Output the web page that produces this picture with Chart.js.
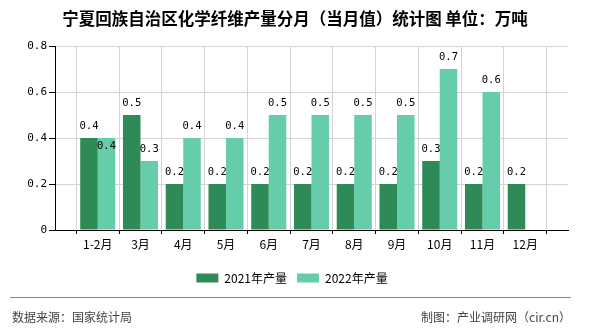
<!DOCTYPE html>
<html>
<head>
<meta charset="utf-8">
<script src="https://cdn.jsdelivr.net/npm/chart.js@4"></script>
<style>
  html, body { margin: 0; padding: 0; background: #fff; }
  #wrap { position: relative; width: 590px; height: 330px; overflow: hidden; }
  #chart { position: absolute; left: 0; top: 0; }
  .title {
    position: absolute; left: 0; top: 8px; width: 590px; text-align: center;
    font: bold 16.5px "Noto Sans CJK SC", sans-serif; color: #000; line-height: 20px;
  }
  .rule { position: absolute; left: 10px; top: 297px; width: 561px; height: 0; border-top: 1px solid #888; }
  .foot { position: absolute; top: 308px; font: 12px "Noto Sans CJK SC", sans-serif; color: #444; line-height: 18px; }
  .foot.left { left: 12px; }
  .foot.right { right: 19px; }
</style>
</head>
<body>
<div id="wrap">
  <canvas id="chart" width="590" height="330"></canvas>
  <div class="title">宁夏回族自治区化学纤维产量分月（当月值）统计图 单位：万吨</div>
  <div class="rule"></div>
  <div class="foot left">数据来源：国家统计局</div>
  <div class="foot right">制图：产业调研网（cir.cn）</div>
</div>
<script>
// empty slots at both ends keep the half-open frame seen in the original
const months = ["", "1-2月", "3月", "4月", "5月", "6月", "7月", "8月", "9月", "10月", "11月", "12月", ""];
const output2021 = [null, 0.4, 0.5, 0.2, 0.2, 0.2, 0.2, 0.2, 0.2, 0.3, 0.2, 0.2, null];
const output2022 = [null, 0.4, 0.3, 0.4, 0.4, 0.5, 0.5, 0.5, 0.5, 0.7, 0.6, null, null];
const yTicks = [0, 0.2, 0.4, 0.6, 0.8];

const DARK = "#2E8B57";
const LIGHT = "#66CDAA";
const GRID = "#d4d4d4";

const valueLabels = {
  id: "valueLabels",
  afterDatasetsDraw(chart) {
    const ctx = chart.ctx;
    const sets = chart.data.datasets;
    ctx.save();
    ctx.font = '10.5px "DejaVu Sans Mono"';
    ctx.fillStyle = "#000";
    ctx.textAlign = "center";
    ctx.textBaseline = "middle";
    sets.forEach((ds, i) => {
      chart.getDatasetMeta(i).data.forEach((bar, j) => {
        const v = ds.data[j];
        if (v == null) return;
        let y = bar.y - 11.5;
        // when both bars are level the second label drops below the top
        if (i === 1 && sets[0].data[j] === v) y = bar.y + 8.5;
        ctx.fillText(v.toFixed(1), bar.x, y);
      });
    });
    ctx.restore();
  }
};

new Chart(document.getElementById("chart"), {
  type: "bar",
  data: {
    labels: months,
    datasets: [
      { label: "2021年产量", data: output2021, backgroundColor: DARK },
      { label: "2022年产量", data: output2022, backgroundColor: LIGHT }
    ]
  },
  options: {
    responsive: false,
    animation: false,
    devicePixelRatio: 1,
    categoryPercentage: 0.82,
    barPercentage: 1,
    layout: { padding: { top: 46, right: 22, bottom: 36, left: 16 } },
    plugins: {
      title: { display: false },
      tooltip: { enabled: false },
      legend: {
        position: "bottom",
        labels: {
          boxWidth: 22,
          boxHeight: 9,
          padding: 10,
          color: "#000",
          font: { family: "Noto Sans CJK SC", size: 12 }
        }
      }
    },
    scales: {
      x: {
        offset: false,
        afterFit: s => { s.height = 32; },
        grid: { color: GRID, tickColor: "#000", tickLength: 4 },
        border: { color: "#000" },
        ticks: {
          color: "#000",
          padding: 3,
          maxRotation: 0,
          autoSkip: false,
          font: { family: "Noto Sans CJK SC", size: 12 }
        }
      },
      y: {
        min: 0,
        max: 0.8,
        afterFit: s => { s.width = 39; },
        afterBuildTicks: s => { s.ticks = yTicks.map(v => ({ value: v })); },
        grid: { color: GRID, tickColor: "#000", tickLength: 6 },
        border: { color: "#000" },
        ticks: {
          color: "#000",
          padding: 2,
          font: { family: "DejaVu Sans Mono", size: 11 },
          callback: v => v === 0 ? "0" : v.toFixed(1)
        }
      }
    }
  },
  plugins: [valueLabels]
});
</script>
</body>
</html>
